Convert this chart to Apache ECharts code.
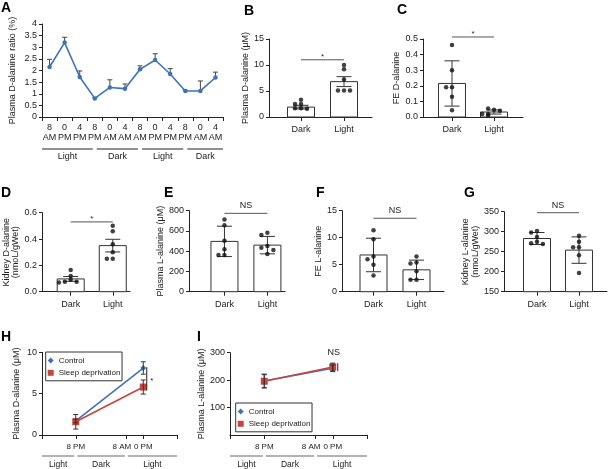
<!DOCTYPE html>
<html><head><meta charset="utf-8">
<script src="https://cdn.jsdelivr.net/npm/echarts@6/dist/echarts.min.js"></script>
<style>html,body{margin:0;padding:0;background:#fff}#c{width:608px;height:469px}</style>
</head><body><div id="c"></div>
<script>
// ---------------- DATA ----------------
// Panel A
const aCategories = ['8\nAM','0\nPM','4\nPM','8\nPM','0\nAM','4\nAM','8\nAM','0\nPM','4\nPM','8\nPM','0\nAM','4\nAM'];
const aMean  = [2.15, 3.2, 1.72, 0.8, 1.27, 1.22, 2.05, 2.45, 1.85, 1.12, 1.12, 1.7];
const aUpper = [2.48, 3.43, 1.98, 0.83, 1.6, 1.42, 2.2, 2.72, 2.08, 1.15, 1.55, 1.93];
const aPhases = ['Light','Dark','Light','Dark'];
const aPhaseEdges = [-0.5, 3, 6, 9, 11.5];

// Bar panels B-G
const barCats = ['Dark','Light'];
const bMean = [1.9, 6.8],   bErr = [0.35, 0.95];
const bDark = [2.5, 1.7, 3.3, 2.5, 1.7, 1.6], bLight = [5.1, 10.0, 9.2, 7.2, 5.1, 5.1];
const bSig = 11.0, bSigLabel = '*';
const cMean = [0.215, 0.032], cErr = [0.145, 0.013];
const cDark = [0.462, 0.30, 0.19, 0.19, 0.13, 0.043], cLight = [0.047, 0.055, 0.04, 0.019, 0.01, 0.019];
const cSig = 0.513, cSigLabel = '*';
const dMean = [0.097, 0.35], dErr = [0.018, 0.048];
const dDark = [0.165, 0.12, 0.09, 0.075, 0.075, 0.07], dLight = [0.50, 0.46, 0.36, 0.30, 0.25, 0.25];
const dSig = 0.53, dSigLabel = '*';
const eMean = [497, 460], eErr = [150, 86];
const eDark = [714, 657, 504, 420, 363, 363], eLight = [583, 560, 451, 435, 412, 372];
const eSig = 774, eSigLabel = 'NS';
const fMean = [6.8, 4.05], fErr = [3.1, 1.8];
const fDark = [11.4, 9.7, 6.5, 6.0, 5.0, 3.0], fLight = [6.5, 5.4, 5.2, 3.8, 2.2, 2.2];
const fSig = 13.6, fSigLabel = 'NS';
const gMean = [283, 254], gErr = [15, 33];
const gDark = [302, 298, 287, 275, 271, 269], gLight = [290, 275, 261, 261, 241, 197];
const gSig = 347.5, gSigLabel = 'NS';

// Panels H, I (x in hours)
const hvTimes = [20, 36];
const hvLabelHours = [20, 32, 36];
const hvLabelText = ['8 PM', '8 AM', '0 PM'];
const hvTickHours = [12, 20, 32, 36, 44];
const hvPhases = ['Light', 'Dark', 'Light'];
const hvPhaseEdges = [12, 20, 32, 44];
const hControl = [1.7, 8.1], hControlErr = [0.22, 0.75];
const hSleep = [1.6, 5.8],   hSleepErr = [0.88, 0.85];
const hSig = [5.4, 8.2], hSigLabel = '*';
const iControl = [197, 243], iControlErr = [25, 12];
const iSleep = [196, 248],   iSleepErr = [24, 14];
const iSig = [233, 262], iSigLabel = 'NS';

// ---------------- STYLE / LAYOUT ----------------
const FONT = 'Liberation Sans, Arial, Helvetica, sans-serif';
const TXT = '#222';
const AX = '#222';
const BLUE = '#3E72B8';
const RED = '#C8453F';

const chart = echarts.init(document.getElementById('c'), null, {renderer: 'canvas'});

const grids = [
  {left: 42,  top: 24,    width: 181, height: 93},   // A
  {left: 269, top: 39,    width: 103, height: 78},   // B
  {left: 423, top: 39,    width: 100, height: 78},   // C
  {left: 42,  top: 212.7, width: 88,  height: 79},   // D
  {left: 189, top: 210.7, width: 96,  height: 81},   // E
  {left: 342, top: 210.7, width: 102, height: 81},   // F
  {left: 504, top: 211.7, width: 103, height: 80},   // G
  {left: 42,  top: 352.3, width: 135, height: 82.7}, // H
  {left: 230, top: 352.7, width: 137, height: 82.3}  // I
].map(g => Object.assign({outerBoundsMode: 'none', containLabel: false}, g));

const xAxes = [], yAxes = [], series = [];

function yAx(i, min, max, interval, name, nameGap, fmt, extraLabel) {
  const lab = Object.assign({fontSize: 9, color: TXT, fontFamily: FONT, margin: 5}, extraLabel || {});
  if (fmt) lab.formatter = fmt;
  return {type: 'value', gridIndex: i, min, max, interval, name, nameLocation: 'middle', nameGap, nameRotate: 90,
    nameTextStyle: {fontSize: 9, color: TXT, fontFamily: FONT, lineHeight: 9.5},
    axisLine: {show: true, onZero: false, lineStyle: {color: AX, width: 1}},
    axisTick: {show: true, length: 3, lineStyle: {color: AX}},
    axisLabel: lab, splitLine: {show: false}};
}
function xBar(i, min, max) {
  return {type: 'value', gridIndex: i, min, max,
    axisLine: {show: true, onZero: false, lineStyle: {color: AX, width: 1}},
    axisTick: {show: true, length: 4, customValues: [1, 2], lineStyle: {color: AX}},
    axisLabel: {customValues: [1, 2], formatter: v => barCats[Math.round(v) - 1], fontSize: 9, color: TXT, fontFamily: FONT, margin: 8},
    splitLine: {show: false}};
}
function errSeries(i, pts, capW, color, z) {
  return {type: 'custom', xAxisIndex: i, yAxisIndex: i, data: pts, z: z || 3, clip: false, silent: true,
    renderItem(params, api) {
      const x = api.value(0), lo = api.value(1), hi = api.value(2);
      const p1 = api.coord([x, lo]), p2 = api.coord([x, hi]);
      const st = {stroke: color, lineWidth: 1};
      const ch = [{type: 'line', shape: {x1: p1[0], y1: p1[1], x2: p2[0], y2: p2[1]}, style: st},
                  {type: 'line', shape: {x1: p2[0] - capW / 2, y1: p2[1], x2: p2[0] + capW / 2, y2: p2[1]}, style: st}];
      if (lo !== hi && api.value(3) !== 1)
        ch.push({type: 'line', shape: {x1: p1[0] - capW / 2, y1: p1[1], x2: p1[0] + capW / 2, y2: p1[1]}, style: st});
      return {type: 'group', children: ch};
    }};
}
function jitter(vals, thr) {
  const offs = [0, -0.14, 0.14, -0.28, 0.28];
  return vals.map((v, k) => {
    let c = 0;
    for (let j = 0; j < k; j++) if (Math.abs(vals[j] - v) < thr) c++;
    return offs[Math.min(c, 4)];
  });
}
function barPanel(i, xr, yr, name, nameGap, fmt, mean, err, dark, light, sig, sigLabel) {
  xAxes.push(xBar(i, xr[0], xr[1]));
  yAxes.push(yAx(i, yr[0], yr[1], yr[2], name, nameGap, fmt));
  series.push({type: 'custom', xAxisIndex: i, yAxisIndex: i, z: 2, silent: true,
    data: mean.map((m, k) => [k + 1, m]),
    renderItem(params, api) {
      const x = api.value(0), v = api.value(1);
      const top = api.coord([x, v]);
      const base = params.coordSys.y + params.coordSys.height;
      const w = 27;
      return {type: 'rect', shape: {x: top[0] - w / 2, y: top[1], width: w, height: base - top[1]},
        style: {fill: '#fff', stroke: '#333', lineWidth: 1}};
    }});
  series.push(errSeries(i, mean.map((m, k) => [k + 1, m - err[k], m + err[k]]), 15, '#333', 3));
  const thr = (yr[1] - yr[0]) * 0.05;
  [dark, light].forEach((vals, k) => {
    const j = jitter(vals, thr);
    series.push({type: 'scatter', xAxisIndex: i, yAxisIndex: i, z: 4, silent: true,
      symbol: 'circle', symbolSize: 4.5, itemStyle: {color: '#111'},
      data: vals.map((v, n) => [k + 1 + j[n], v])});
  });
  series.push({type: 'custom', xAxisIndex: i, yAxisIndex: i, z: 4, clip: false, silent: true,
    data: [[1, sig, 2]],
    renderItem(params, api) {
      const p1 = api.coord([api.value(0), api.value(1)]), p2 = api.coord([api.value(2), api.value(1)]);
      const star = sigLabel === '*';
      return {type: 'group', children: [
        {type: 'line', shape: {x1: p1[0], y1: p1[1], x2: p2[0], y2: p2[1]}, style: {stroke: '#555', lineWidth: 1}},
        {type: 'text', style: {text: sigLabel, x: (p1[0] + p2[0]) / 2, y: star ? p1[1] + 1 : p1[1] - 3,
          align: 'center', verticalAlign: 'bottom', fontSize: star ? 8 : 9, fontFamily: FONT, fill: TXT}}]};
    }});
}

// ---------- Panel A ----------
xAxes.push({type: 'category', gridIndex: 0, data: aCategories, boundaryGap: true,
  axisLine: {show: true, onZero: false, lineStyle: {color: AX}},
  axisTick: {show: true, interval: 0, length: 4, lineStyle: {color: AX}},
  axisLabel: {interval: 0, fontSize: 9, lineHeight: 10, color: TXT, fontFamily: FONT, margin: 6}});
yAxes.push(yAx(0, 0, 4, 0.5, 'Plasma D-alanine ratio (%)', 25));
series.push({type: 'line', xAxisIndex: 0, yAxisIndex: 0, data: aMean, symbol: 'circle', symbolSize: 4.5,
  lineStyle: {color: BLUE, width: 1.6}, itemStyle: {color: BLUE}, z: 3, silent: true});
series.push(errSeries(0, aMean.map((m, k) => [k, m, aUpper[k], 1]), 5, '#444', 2));
series.push({type: 'custom', xAxisIndex: 0, yAxisIndex: 0, clip: false, silent: true,
  data: aPhases.map((p, k) => [k, 0]),
  renderItem(params, api) {
    const k = params.dataIndex;
    const band = api.size([1, 0])[0];
    const c0 = api.coord([0, 0])[0];
    const base = params.coordSys.y + params.coordSys.height;
    const x1 = c0 + aPhaseEdges[k] * band + (k === 0 ? 0 : 2);
    const x2 = c0 + aPhaseEdges[k + 1] * band - (k === aPhases.length - 1 ? 0 : 2);
    return {type: 'group', children: [
      {type: 'line', shape: {x1, y1: base + 32, x2, y2: base + 32}, style: {stroke: '#222', lineWidth: 1}},
      {type: 'text', style: {text: aPhases[k], x: (x1 + x2) / 2, y: base + 40, align: 'center', verticalAlign: 'middle',
        fontSize: 9, fontFamily: FONT, fill: TXT}}]};
  }});

// ---------- Panels B-G ----------
barPanel(1, [0.256, 2.651], [0, 15, 5], 'Plasma D-alanine (μM)', 16, null, bMean, bErr, bDark, bLight, bSig, bSigLabel);
barPanel(2, [0.31, 2.69], [0, 0.5, 0.1], 'FE D-alanine', 17, v => v.toFixed(1), cMean, cErr, cDark, cLight, cSig, cSigLabel);
barPanel(3, [0.317, 2.41], [0, 0.6, 0.2], 'Kidney D-alanine\n(nmoL/gWet)', 21, v => v.toFixed(1), dMean, dErr, dDark, dLight, dSig, dSigLabel);
barPanel(4, [0.174, 2.41], [0, 800, 200], 'Plasma L-alanine (μM)', 15, null, eMean, eErr, eDark, eLight, eSig, eSigLabel);
barPanel(5, [0.267, 2.64], [0, 15, 5], 'FE L-alanine', 16, null, fMean, fErr, fDark, fLight, fSig, fSigLabel);
barPanel(6, [0.214, 2.667], [150, 350, 50], 'Kidney L-alanine\n(nmoL/gWet)', 18, null, gMean, gErr, gDark, gLight, gSig, gSigLabel);

// ---------- Panels H, I ----------
// main time axis (labels 8 PM, 0 PM) and an overlay axis carrying only the 8 AM label
function timeX(i) {
  const labels = [hvLabelHours[0], hvLabelHours[2]];
  return {type: 'value', gridIndex: i, min: 12, max: 44,
    axisLine: {show: true, onZero: false, lineStyle: {color: AX}},
    axisTick: {show: true, length: 4, customValues: hvTickHours, lineStyle: {color: AX}},
    axisLabel: {customValues: labels, hideOverlap: false,
      formatter: v => hvLabelText[hvLabelHours.indexOf(Math.round(v))],
      fontSize: 8, color: TXT, fontFamily: FONT, margin: 8},
    splitLine: {show: false}};
}
function timeXOverlay(i) {
  return {type: 'value', gridIndex: i, min: 12, max: 44, position: 'bottom', offset: 0,
    axisLine: {show: false}, axisTick: {show: false}, splitLine: {show: false},
    axisLabel: {customValues: [hvLabelHours[1]], hideOverlap: false,
      formatter: v => '{l|' + hvLabelText[hvLabelHours.indexOf(Math.round(v))] + '}',
      rich: {l: {fontSize: 8, color: TXT, fontFamily: FONT, padding: [0, 9, 0, 0]}},
      fontSize: 8, color: TXT, fontFamily: FONT, margin: 8}};
}
function phaseSeries(i) {
  return {type: 'custom', xAxisIndex: i, yAxisIndex: i, clip: false, silent: true,
    data: hvPhases.map((p, k) => [hvPhaseEdges[k], hvPhaseEdges[k + 1]]),
    renderItem(params, api) {
      const k = params.dataIndex;
      const base = params.coordSys.y + params.coordSys.height;
      const x1 = api.coord([api.value(0), 0])[0] + (k === 0 ? 0 : 1.5);
      const x2 = api.coord([api.value(1), 0])[0] - (k === hvPhases.length - 1 ? 0 : 1.5);
      return {type: 'group', children: [
        {type: 'line', shape: {x1, y1: base + 21, x2, y2: base + 21}, style: {stroke: '#9a9a9a', lineWidth: 1.5}},
        {type: 'text', style: {text: hvPhases[k], x: (x1 + x2) / 2, y: base + 29.5, align: 'center', verticalAlign: 'middle',
          fontSize: 8.5, fontFamily: FONT, fill: TXT}}]};
    }};
}
function timePanel(i, yr, name, nameGap, ctrl, ctrlErr, slp, slpErr, showMin) {
  xAxes.push(timeX(i));
  yAxes.push(yAx(i, yr[0], yr[1], yr[2], name, nameGap, null, {showMinLabel: showMin}));
  series.push({type: 'line', name: 'Control', xAxisIndex: i, yAxisIndex: i, z: 3, silent: true,
    data: hvTimes.map((t, k) => [t, ctrl[k]]), symbol: 'diamond', symbolSize: 6,
    lineStyle: {color: BLUE, width: 1.6}, itemStyle: {color: BLUE}});
  series.push({type: 'line', name: 'Sleep deprivation', xAxisIndex: i, yAxisIndex: i, z: 4, silent: true,
    data: hvTimes.map((t, k) => [t, slp[k]]), symbol: 'rect', symbolSize: 7,
    lineStyle: {color: RED, width: 1.6}, itemStyle: {color: RED}});
  const pts = [];
  hvTimes.forEach((t, k) => {
    pts.push([t, ctrl[k] - ctrlErr[k], ctrl[k] + ctrlErr[k]]);
    pts.push([t, slp[k] - slpErr[k], slp[k] + slpErr[k]]);
  });
  series.push(errSeries(i, pts, 5, '#333', 5));
  series.push(phaseSeries(i));
}
timePanel(7, [0, 10, 5], 'Plasma D-alanine (μM)', 21, hControl, hControlErr, hSleep, hSleepErr, true);
timePanel(8, [0, 300, 100], 'Plasma L-alanine (μM)', 24, iControl, iControlErr, iSleep, iSleepErr, false);
xAxes.push(timeXOverlay(7));
xAxes.push(timeXOverlay(8));

// significance marks H and I
series.push({type: 'custom', xAxisIndex: 7, yAxisIndex: 7, clip: false, silent: true, z: 6,
  data: [[hvTimes[1], hSig[0], hSig[1]]],
  renderItem(params, api) {
    const p1 = api.coord([api.value(0), api.value(1)]), p2 = api.coord([api.value(0), api.value(2)]);
    const x = p1[0] + 3.5;
    return {type: 'group', children: [
      {type: 'line', shape: {x1: x, y1: p1[1], x2: x, y2: p2[1]}, style: {stroke: '#222', lineWidth: 1}},
      {type: 'text', style: {text: hSigLabel, x: x + 5, y: (p1[1] + p2[1]) / 2 + 2, align: 'center', verticalAlign: 'middle',
        fontSize: 8, fontFamily: FONT, fill: TXT}}]};
  }});
series.push({type: 'custom', xAxisIndex: 8, yAxisIndex: 8, clip: false, silent: true, z: 6,
  data: [[hvTimes[1], iSig[0], iSig[1]]],
  renderItem(params, api) {
    const p1 = api.coord([api.value(0), api.value(1)]), p2 = api.coord([api.value(0), api.value(2)]);
    const x = p1[0] + 5;
    return {type: 'group', children: [
      {type: 'line', shape: {x1: x, y1: p1[1], x2: x, y2: p2[1]}, style: {stroke: '#222', lineWidth: 1}},
      {type: 'text', style: {text: iSigLabel, x: p1[0] + 1, y: params.coordSys.y, align: 'center', verticalAlign: 'middle',
        fontSize: 9, fontFamily: FONT, fill: TXT}}]};
  }});

const legendBase = {orient: 'vertical', borderColor: '#333', borderWidth: 1, padding: [3.5, 1.5, 3, 2],
  itemGap: 2.3, itemWidth: 6, itemHeight: 6, selectedMode: false,
  textStyle: {fontSize: 8, color: TXT, fontFamily: FONT, lineHeight: 10},
  data: [{name: 'Control', icon: 'diamond', itemStyle: {color: BLUE}}, {name: 'Sleep deprivation', icon: 'rect', itemStyle: {color: RED}}]};

const letters = [['A', 1, 1], ['B', 244, 4.5], ['C', 397, 3], ['D', 1, 186], ['E', 164, 186], ['F', 316, 186],
  ['G', 464, 186], ['H', 1, 330.5], ['I', 197, 330.5]];

chart.setOption({
  animation: false,
  backgroundColor: '#fff',
  textStyle: {fontFamily: FONT},
  title: letters.map(l => ({text: l[0], left: l[1], top: l[2], padding: 0,
    textStyle: {fontSize: 14, fontWeight: 'bold', color: '#000', fontFamily: FONT}})),
  legend: [Object.assign({left: 45.7, top: 352}, legendBase), Object.assign({left: 235.7, top: 403}, legendBase)],
  grid: grids,
  xAxis: xAxes,
  yAxis: yAxes,
  series: series
});
</script></body></html>
